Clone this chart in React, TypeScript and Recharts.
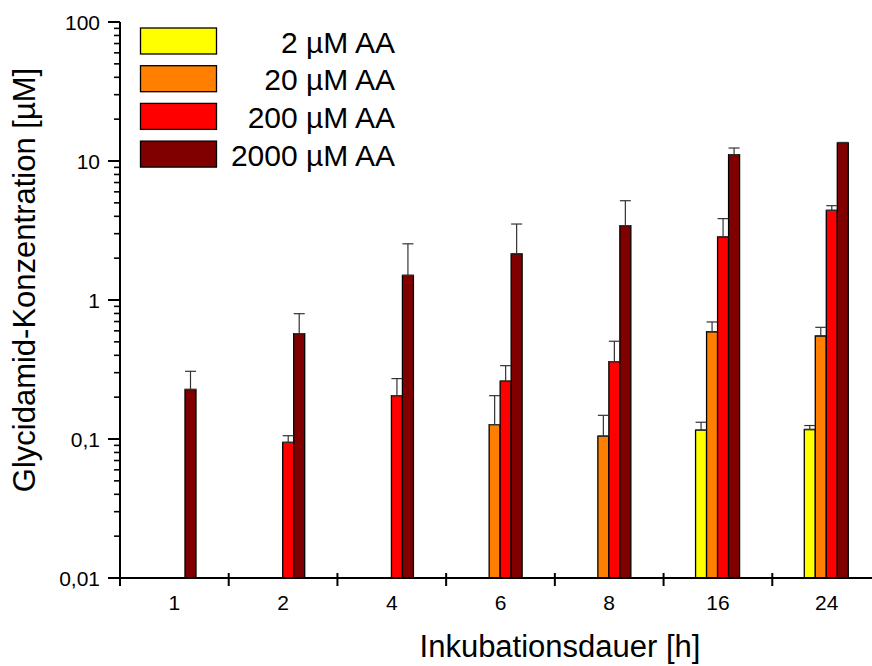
import React from 'react';
import { BarChart, Bar, XAxis, YAxis, ErrorBar, Legend } from 'recharts';

const FONT = '"Liberation Sans", Arial, Helvetica, sans-serif';

const categories = ['1', '2', '4', '6', '8', '16', '24'];
const seriesNames = ['2 µM AA', '20 µM AA', '200 µM AA', '2000 µM AA'];
const seriesColors = ['#FFFF00', '#FF8000', '#FF0000', '#800000'];

const aa2 = [null, null, null, null, null, 0.116, 0.117];
const aa2Err = [null, null, null, null, null, 0.016, 0.008];
const aa20 = [null, null, null, 0.127, 0.105, 0.591, 0.551];
const aa20Err = [null, null, null, 0.078, 0.043, 0.104, 0.085];
const aa200 = [null, 0.0946, 0.205, 0.261, 0.36, 2.84, 4.42];
const aa200Err = [null, 0.011, 0.067, 0.076, 0.145, 1.01, 0.35];
const aa2000 = [0.227, 0.573, 1.506, 2.15, 3.43, 11.1, 13.5];
const aa2000Err = [0.08, 0.224, 1.03, 1.37, 1.75, 1.3, 0.1];

const majorTicks = [0.01, 0.1, 1, 10, 100];
const majorLabels = ['0,01', '0,1', '1', '10', '100'];
const minorTicks = [
  0.02, 0.03, 0.04, 0.05, 0.06, 0.07, 0.08, 0.09,
  0.2, 0.3, 0.4, 0.5, 0.6, 0.7, 0.8, 0.9,
  2, 3, 4, 5, 6, 7, 8, 9,
  20, 30, 40, 50, 60, 70, 80, 90,
];

const yTitle = 'Glycidamid-Konzentration [µM]';
const xTitle = 'Inkubationsdauer [h]';

const err = (v: number | null) => (v == null ? null : [0, v]);

const data = categories.map((c, i) => ({
  name: c,
  aa2: aa2[i],
  aa2Err: err(aa2Err[i]),
  aa20: aa20[i],
  aa20Err: err(aa20Err[i]),
  aa200: aa200[i],
  aa200Err: err(aa200Err[i]),
  aa2000: aa2000[i],
  aa2000Err: err(aa2000Err[i]),
}));

const seriesKeys = ['aa2', 'aa20', 'aa200', 'aa2000'];

const YTick = (props: any) => {
  const { x, y, payload } = props;
  const idx = majorTicks.indexOf(payload.value);
  if (idx < 0) {
    return <line x1={x - 6} x2={x} y1={y} y2={y} stroke="#000" strokeWidth={1.6} />;
  }
  return (
    <g>
      <line x1={x - 12} x2={x} y1={y} y2={y} stroke="#000" strokeWidth={2} />
      <text x={x - 20} y={y + 7.5} textAnchor="end" fontSize={21} fontFamily={FONT} fill="#000">
        {majorLabels[idx]}
      </text>
    </g>
  );
};

const XTick = (props: any) => {
  const { x, y, payload, index, visibleTicksCount } = props;
  const off = payload && payload.offset != null ? payload.offset : 54.36;
  return (
    <g>
      <line x1={x - off} x2={x - off} y1={y - 5} y2={y + 8} stroke="#000" strokeWidth={2} />
      {index === visibleTicksCount - 1 && (
        <line x1={x + off} x2={x + off} y1={y - 5} y2={y + 8} stroke="#000" strokeWidth={2} />
      )}
      <text x={x} y={y + 32} textAnchor="middle" fontSize={21} fontFamily={FONT} fill="#000">
        {payload.value}
      </text>
    </g>
  );
};

const YTitle = () => (
  <text
    x={35}
    y={280}
    transform="rotate(-90 35 280)"
    textAnchor="middle"
    fontSize={31}
    fontFamily={FONT}
    fill="#000"
  >
    {yTitle}
  </text>
);

const XTitle = () => (
  <text x={560} y={657} textAnchor="middle" fontSize={31} fontFamily={FONT} fill="#000">
    {xTitle}
  </text>
);

const renderLegend = (props: any) => {
  const items = props.payload || [];
  return (
    <svg width={420} height={180} style={{ display: 'block' }}>
      {items.map((p: any, i: number) => (
        <g key={i}>
          <rect
            x={140.5}
            y={28 + i * 37.7}
            width={76}
            height={26}
            fill={p.color}
            stroke="#000"
            strokeWidth={1.3}
          />
          <text
            x={395}
            y={52.5 + i * 37.7}
            textAnchor="end"
            fontSize={30}
            fontFamily={FONT}
            fill="#000"
          >
            {p.value}
          </text>
        </g>
      ))}
    </svg>
  );
};

export default function App() {
  return (
    <div
      style={{
        position: 'absolute',
        left: 0,
        top: 0,
        width: 872,
        height: 666,
        overflow: 'hidden',
        background: '#fff',
      }}
    >
      <BarChart
        width={900}
        height={666}
        data={data}
        margin={{ top: 22, right: 19, bottom: 0, left: 0 }}
        barGap={0}
        barSize={11}
        style={{ fontFamily: FONT }}
      >
        <XAxis
          dataKey="name"
          height={88}
          tickLine={false}
          tickSize={0}
          tickMargin={0}
          interval={0}
          axisLine={{ stroke: '#000', strokeWidth: 2 }}
          tick={<XTick />}
          label={<XTitle />}
        />
        <YAxis
          type="number"
          scale="log"
          domain={[0.01, 100]}
          allowDataOverflow
          ticks={[...majorTicks, ...minorTicks]}
          interval={0}
          width={120}
          tickLine={false}
          tickSize={0}
          tickMargin={0}
          axisLine={{ stroke: '#000', strokeWidth: 2 }}
          tick={<YTick />}
          label={<YTitle />}
        />
        <Legend
          layout="horizontal"
          verticalAlign="middle"
          align="center"
          wrapperStyle={{ left: 0, top: 0, width: 420, height: 180 }}
          content={renderLegend}
        />
        {seriesKeys.map((k, i) => (
          <Bar
            key={k}
            dataKey={k}
            name={seriesNames[i]}
            fill={seriesColors[i]}
            stroke="#000"
            strokeWidth={1.3}
            isAnimationActive={false}
          >
            <ErrorBar
              dataKey={k + 'Err'}
              width={5.5}
              stroke="#333"
              strokeWidth={1.2}
              direction="y"
            />
          </Bar>
        ))}
      </BarChart>
    </div>
  );
}
